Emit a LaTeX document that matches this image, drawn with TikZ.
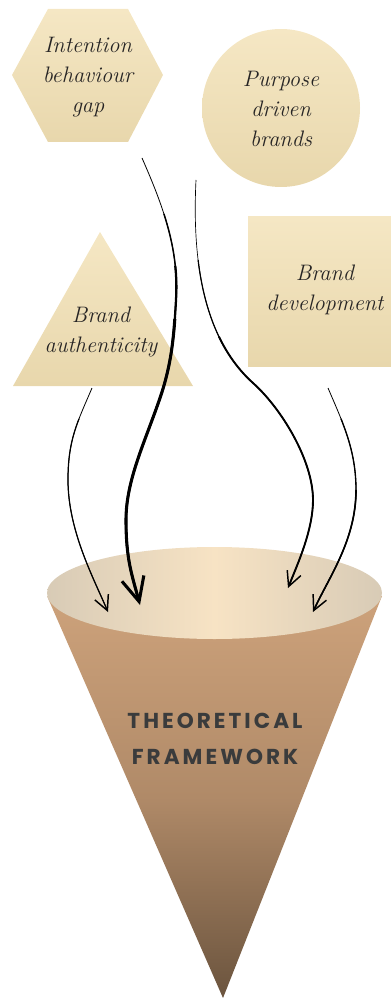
\documentclass[tikz,border=0pt]{standalone}
\usepackage{fontspec}
\usetikzlibrary{arrows.meta}
\newfontfamily\headfont[LetterSpace=14]{Poppins}

\definecolor{ink}{HTML}{262424}
\definecolor{titleink}{HTML}{3A3B3C}
\definecolor{paleTop}{HTML}{F5E7C4}
\definecolor{paleBot}{HTML}{E8D7AC}
\definecolor{coneTop}{HTML}{CDA27B}
\definecolor{coneMid}{HTML}{B08A68}
\definecolor{coneBot}{HTML}{6B543E}
\definecolor{rimIn}{HTML}{F7E3C4}
\definecolor{rimOut}{HTML}{D8CBB6}

\begin{document}
\begin{tikzpicture}[x=0.75pt,y=-0.75pt,
  concept/.style={top color=paleTop, bottom color=paleBot},
  caption/.style={font=\fontsize{16.8}{22.5}\selectfont\itshape, align=center, text=ink, inner sep=0pt},
  title/.style={font=\headfont\bfseries\fontsize{16.2}{27.5}\selectfont, align=center, text=titleink, inner sep=0pt},
  barb/.style={-{Straight Barb[length=#1, width=#1, line width=1.1pt]}},
  bigbarb/.style={-{Straight Barb[length=18pt, width=17pt, line width=2.3pt]}},
  from/.style={dash pattern=on 0pt off #1 on 2000pt off 1pt, shorten >=3pt}
]
\useasboundingbox (0,0) rectangle (391,998);

% four concept shapes
\shade[concept] (48,9) -- (128,9) -- (163,75) -- (128,142) -- (48,142) -- (12,75) -- cycle;
\shade[concept] (281,108) circle [radius=79];
\shade[concept] (100,232) -- (193,386) -- (13,386) -- cycle;
\shade[concept] (248,217) rectangle (391,366);

\node[caption] (gap) at (88,77) {Intention\\behaviour\\gap};
\node[caption] (purpose) at (281,109) {Purpose\\driven\\brands};
\node[caption] (auth) at (101,332) {Brand\\authenticity};
\node[caption] (dev) at (325,290) {Brand\\development};

% the funnel
\shade[top color=coneTop, bottom color=coneBot, middle color=coneMid]
  (47,596) -- (223,998) -- (382,596) -- cycle;
\shade[left color=rimOut, right color=rimOut, middle color=rimIn]
  (214.5,593) ellipse [x radius=167.5, y radius=46];
\node[title] (frame) at (215,739) {THEORETICAL\\FRAMEWORK};

% connector end points
\coordinate (a1s) at (142,158);
\coordinate (a1b) at (176,300);
\coordinate (a1c) at (160,398);
\coordinate (a1d) at (126,520);
\coordinate (a1e) at (140,605);

\coordinate (a2s) at (196,180);
\coordinate (a2b) at (253,383);
\coordinate (a2c) at (313,500);
\coordinate (a2e) at (288,588);

\coordinate (a3s) at (92,388);
\coordinate (a3b) at (68,480);
\coordinate (a3e) at (108,612);

\coordinate (a4s) at (328,388);
\coordinate (a4b) at (356,490);
\coordinate (a4e) at (313,612);

\newcommand\pathgap{(a1s) .. controls +(22,50) and +(3,-50) .. (a1b)
  .. controls +(-2,35) and +(12,-35) .. (a1c)
  .. controls +(-15,44) and +(0,-40) .. (a1d)
  .. controls +(0,40) and +(-8,-30) .. (a1e)}
\newcommand\pathpurpose{(a2s) .. controls +(-4,80) and +(-50,-45) .. (a2b)
  .. controls +(28,25) and +(0,-40) .. (a2c)
  .. controls +(0,30) and +(10,-25) .. (a2e)}
\newcommand\pathauth{(a3s) .. controls +(-15,35) and +(0,-40) .. (a3b)
  .. controls +(0,50) and +(-15,-35) .. (a3e)}
\newcommand\pathdev{(a4s) .. controls +(15,35) and +(0,-40) .. (a4b)
  .. controls +(0,50) and +(16,-35) .. (a4e)}

% tapered strokes: a thin base with thicker layers further along
\draw[line width=0.6pt, bigbarb] \pathgap;
\draw[line width=1.1pt, from=45pt] \pathgap;
\draw[line width=1.7pt, from=85pt] \pathgap;
\draw[line width=2.3pt, from=125pt] \pathgap;

\draw[line width=0.5pt, barb=11pt] \pathpurpose;
\draw[line width=0.9pt, from=60pt] \pathpurpose;
\draw[line width=1.4pt, from=120pt] \pathpurpose;

\draw[line width=0.6pt, barb=11pt] \pathauth;
\draw[line width=0.9pt, from=25pt] \pathauth;

\draw[line width=0.6pt, barb=11pt] \pathdev;
\draw[line width=1.0pt, from=25pt] \pathdev;
\draw[line width=1.2pt, from=80pt] \pathdev;
\end{tikzpicture}
\end{document}
